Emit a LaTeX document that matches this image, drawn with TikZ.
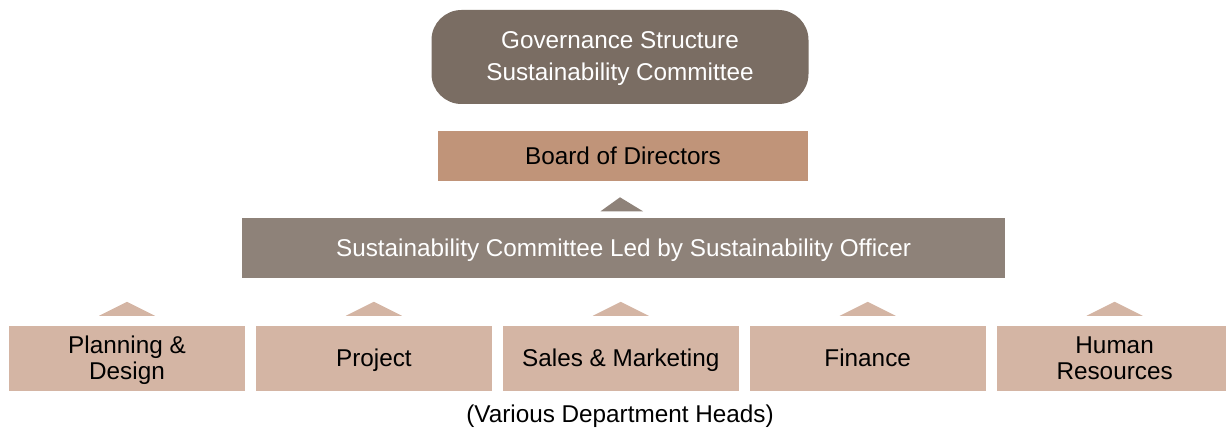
\documentclass[tikz,border=0pt]{standalone}
\usepackage{fontspec}
\setmainfont{Liberation Sans}
\usetikzlibrary{positioning}

\definecolor{govfill}{RGB}{122,109,99}
\definecolor{boardfill}{RGB}{192,148,121}
\definecolor{officerfill}{RGB}{142,130,121}
\definecolor{deptfill}{RGB}{212,181,164}

\tikzset{
  box/.style={inner sep=0pt, align=center, text depth=1pt, font=\fontsize{24.3}{26}\selectfont},
  oneline/.style={text height=17.5pt},
  govbox/.style={box, fill=govfill, text=white, rounded corners=30pt, text depth=2pt,
    minimum width=377pt, minimum height=94pt, font=\fontsize{24.3}{32}\selectfont},
  boardbox/.style={box, oneline, fill=boardfill, minimum width=370pt, minimum height=50pt},
  officerbox/.style={box, oneline, fill=officerfill, text=white, minimum width=763pt, minimum height=60pt},
  deptbox/.style={box, fill=deptfill, minimum width=236pt, minimum height=65pt},
  officertip/.style={fill=officerfill},
  depttip/.style={fill=deptfill}
}

\begin{document}
\begin{tikzpicture}[x=1pt, y=1pt]
\useasboundingbox (0,0) rectangle (1226,428);
\node[govbox] (gov) at (620,371) {Governance Structure\\Sustainability Committee};
\node[boardbox] (board) at (623,272) {Board of Directors};
\node[officerbox] (officer) at (623.5,179.5) {Sustainability Committee Led by Sustainability Officer};
\node[deptbox] (plan) at (127,69.5) {Planning \&\\Design};
\node[deptbox, oneline, right=10.5pt of plan] (proj) {Project};
\node[deptbox, oneline, right=10.5pt of proj] (sales) {Sales \& Marketing};
\node[deptbox, oneline, right=10.5pt of sales] (fin) {Finance};
\node[deptbox, right=10.5pt of fin] (hr) {Human\\Resources};
\node[box, oneline] (heads) at (620,14) {(Various Department Heads)};
% tips pointing up
\fill[officertip] ([xshift=-23pt, yshift=7pt]officer.north) -- ([xshift=-3.5pt, yshift=21pt]officer.north)
  -- ([xshift=19.5pt, yshift=7pt]officer.north) -- cycle;
\foreach \n in {plan,proj,sales,fin,hr}
  \fill[depttip] ([xshift=-28pt, yshift=10pt]\n.north) -- ([yshift=24pt]\n.north)
    -- ([xshift=28pt, yshift=10pt]\n.north) -- cycle;
\end{tikzpicture}
\end{document}
